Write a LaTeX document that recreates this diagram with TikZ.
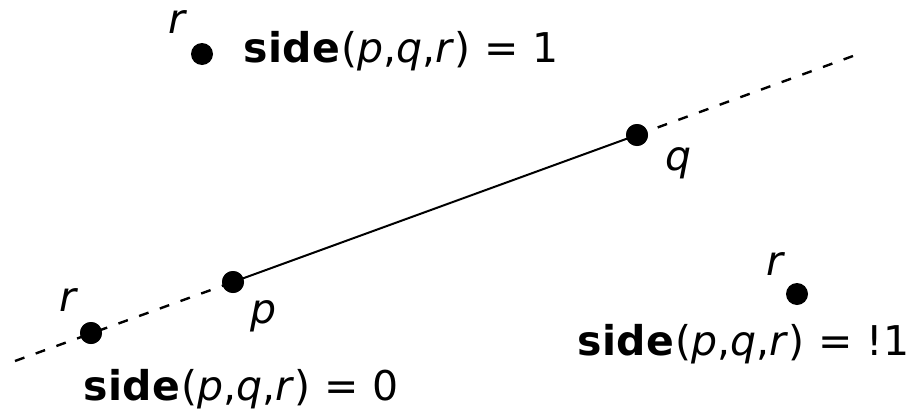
\documentclass[tikz,border=0pt]{standalone}
\usepackage{fontspec}
\setmainfont{DejaVu Sans}
\begin{document}
\begin{tikzpicture}[x=1pt,y=-1pt,
  pt/.style={circle,fill=black,inner sep=0pt,minimum size=22pt},
  lbl/.style={anchor=base,inner sep=0pt,font=\fontsize{41}{48}\selectfont\itshape},
  eqn/.style={anchor=base west,inner sep=0pt,font=\fontsize{41}{48}\selectfont\addfontfeatures{LetterSpace=1.5}},
  dashline/.style={line width=2.4pt,dash pattern=on 10pt off 12pt},
  solidline/.style={line width=2pt}]
\useasboundingbox (0,0) rectangle (911,410);
\coordinate (L) at (15,361);
\coordinate (R) at (853,56);
\node[pt] (p) at (233,282) {};
\node[pt] (q) at (637,135) {};
\node[pt] (rl) at (91,333) {};
\node[pt] (rt) at (202,54) {};
\node[pt] (rr) at (797,294) {};
\draw[dashline] (L) -- (p.center);
\draw[dashline] (q.center) -- (R);
\draw[solidline] (p.center) -- (q.center);
\node[pt] at (p) {};
\node[pt] at (q) {};
\node[pt] at (rl) {};
\node[lbl] (lp) at (264,323) {p};
\node[lbl] (lq) at (679,170) {q};
\node[lbl] (lrl) at (68,311) {r};
\node[lbl] (lrt) at (177,33) {r};
\node[lbl] (lrr) at (775,275) {r};
\node[eqn] (e1) at (243,62) {\textbf{side}(\textit{p},\textit{q},\textit{r}) = 1};
\node[eqn] (e2) at (577,355) {\textbf{side}(\textit{p},\textit{q},\textit{r}) = !1};
\node[eqn] (e0) at (83,400) {\textbf{side}(\textit{p},\textit{q},\textit{r}) = 0};
\end{tikzpicture}
\end{document}
